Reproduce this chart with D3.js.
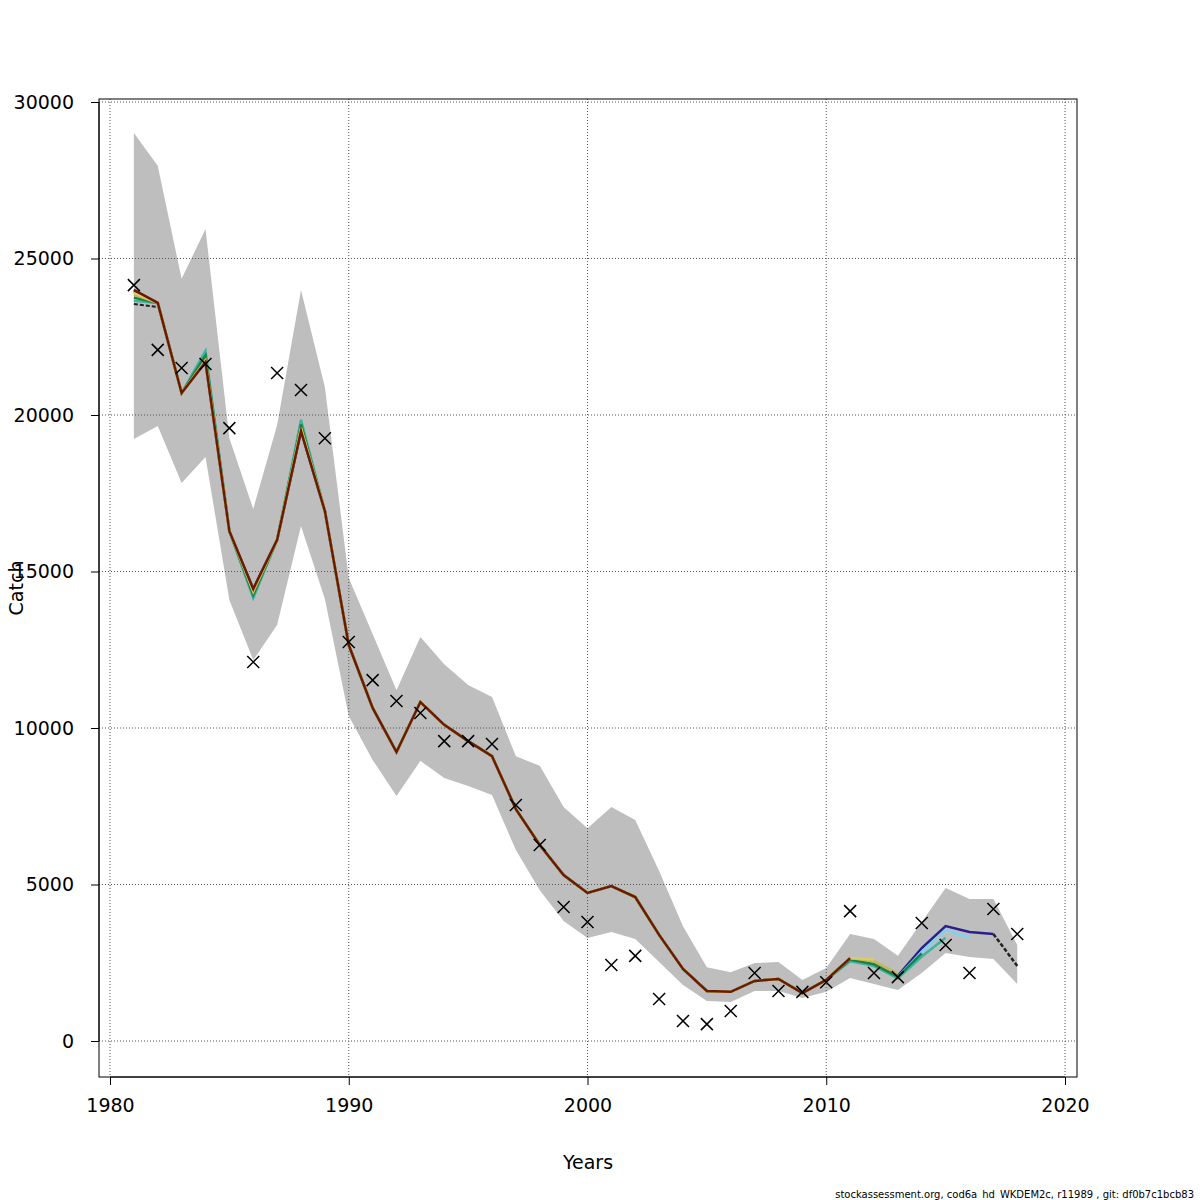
<!DOCTYPE html>
<html><head><meta charset="utf-8">
<script src="https://cdn.jsdelivr.net/npm/d3@7"></script>
<style>body{margin:0;background:#fff}text{font-family:"DejaVu Sans",sans-serif}</style>
</head><body><svg id="c" width="1200" height="1200"></svg>
<script>
const years=d3.range(1981,2019);
const observed=[24150,22080,21500,21630,19580,12110,21340,20800,19260,12750,11530,10860,10480,9580,9580,9490,7540,6260,4280,3800,2430,2720,1340,640,540,960,2170,1600,1570,1880,4150,2170,2040,3770,3070,2170,4220,3420];
const estimate=[23960,23580,20700,21690,16290,14440,16010,19490,16930,12650,10640,9230,10830,10100,9580,9100,7410,6260,5300,4730,4950,4600,3390,2300,1600,1570,1920,1980,1530,1950,2650,2400,2080,2970,3670,3480,3420];
const lastYear=[2400];
const upper=[29010,27960,24350,25940,19260,17000,19680,23990,20890,14790,13000,11210,12910,12040,11370,10990,9100,8790,7480,6800,7480,7060,5430,3670,2360,2200,2490,2520,1950,2330,3420,3260,2720,3800,4890,4540,4540,3070];
const lower=[19230,19650,17830,18660,14090,12170,13290,16450,14120,10380,8980,7830,8950,8400,8150,7860,6100,4820,3830,3290,3480,3260,2520,1790,1280,1250,1600,1600,1370,1570,2010,1820,1630,2170,2810,2680,2620,1820];
const retroNames=["peel1","peel2","peel3","peel4","peel5","peel6"];
const retroColors=["#7fd3f0","#3cb4a0","#1f7f45","#c8b84c","#d9cc70","#6b1a00"];
const retroEnd=[2016,2015,2014,2013,2012,2011];
const retroStart=[23700,23650,23750,23850,23900,24000];
const retroTail={
 peel1:{2013:2050,2014:2850,2015:3550,2016:3300},
 peel2:{2011:2550,2012:2400,2013:2000,2014:2700,2015:3300},
 peel3:{2011:2600,2012:2450,2013:2050,2014:2800},
 peel4:{2011:2650,2012:2550,2013:2150},
 peel5:{2011:2650,2012:2600},
 peel6:{}
};
const retroEarly={1984:[22000,22050,21900,21750,21700,21690],1988:[19800,19850,19700,19600,19550,19490],1986:[14200,14150,14250,14350,14400,14440]};
const xTicks=[1980,1990,2000,2010,2020];
const yTicks=[0,5000,10000,15000,20000,25000,30000];

const svg=d3.select("#c");
const x=d3.scaleLinear().domain([1980,2020]).range([110,1065]);
const y=d3.scaleLinear().domain([0,30000]).range([1041,102]);
const L=99,R=1077,T=99,B=1077;
const g=svg.append("g");
g.append("path").datum(years.map((yr,i)=>({yr,u:upper[i],l:lower[i]})))
 .attr("d",d3.area().x(d=>x(d.yr)).y0(d=>y(d.l)).y1(d=>y(d.u))).attr("fill","#bebebe");
xTicks.forEach(t=>g.append("line").attr("x1",x(t)).attr("x2",x(t)).attr("y1",T).attr("y2",B).attr("stroke","#555").attr("stroke-dasharray","1,2").attr("stroke-width",1));
yTicks.forEach(t=>g.append("line").attr("x1",L).attr("x2",R).attr("y1",y(t)).attr("y2",y(t)).attr("stroke","#555").attr("stroke-dasharray","1,2").attr("stroke-width",1));
const line=d3.line().x(d=>x(d[0])).y(d=>y(d[1]));
const est=years.slice(0,estimate.length).map((yr,i)=>[yr,estimate[i]]);
g.append("path").datum(est).attr("d",line).attr("fill","none").attr("stroke","#2a1f8c").attr("stroke-width",2.5);
g.append("path").datum([[2017,estimate[36]],[2018,lastYear[0]]]).attr("d",line).attr("fill","none").attr("stroke","#222").attr("stroke-width",2.5).attr("stroke-dasharray","4,2");
g.append("path").datum([[1981,23550],[1982,23450]]).attr("d",line).attr("fill","none").attr("stroke","#222").attr("stroke-width",2).attr("stroke-dasharray","4,2");
retroNames.forEach((n,k)=>{
  const pts=[];
  years.forEach((yr,i)=>{
    if(yr>retroEnd[k])return;
    let v=estimate[i];
    if(yr===1981)v=retroStart[k];
    if(retroEarly[yr])v=retroEarly[yr][k];
    if(retroTail[n][yr]!==undefined)v=retroTail[n][yr];
    pts.push([yr,v]);
  });
  g.append("path").datum(pts).attr("d",line).attr("fill","none").attr("stroke",retroColors[k]).attr("stroke-width",2.5);
});
years.forEach((yr,i)=>{const cx=x(yr),cy=y(observed[i]),s=6;
 g.append("path").attr("d",`M${cx-s},${cy-s}L${cx+s},${cy+s}M${cx-s},${cy+s}L${cx+s},${cy-s}`).attr("stroke","#000").attr("stroke-width",1.5);});
g.append("rect").attr("x",L).attr("y",T).attr("width",R-L).attr("height",B-T).attr("fill","none").attr("stroke","#000");
const ax=svg.append("g").attr("transform",`translate(0,${B})`).call(d3.axisBottom(x).tickValues(xTicks).tickFormat(d3.format("d")).tickSize(8).tickPadding(14));
ax.select(".domain").attr("d",`M${x(1980)},0H${x(2020)}`);
ax.selectAll("text").attr("font-size",19).attr("font-family","DejaVu Sans");
const ay=svg.append("g").attr("transform",`translate(${L},0)`).call(d3.axisLeft(y).tickValues(yTicks).tickSize(8).tickPadding(17).tickFormat(d3.format("d")));
ay.select(".domain").attr("d",`M0,${y(0)}V${y(30000)}`);
ay.selectAll("text").attr("font-size",19).attr("font-family","DejaVu Sans");
svg.append("text").attr("x",588).attr("y",1169).attr("text-anchor","middle").attr("font-size",19).text("Years");
svg.append("text").attr("transform","translate(23,588) rotate(-90)").attr("text-anchor","middle").attr("font-size",19).text("Catch");
svg.append("text").attr("x",1194).attr("y",1198).attr("text-anchor","end").attr("font-size",10).text("stockassessment.org, cod6a_hd_WKDEM2c, r11989 , git: df0b7c1bcb83");
</script></body></html>
